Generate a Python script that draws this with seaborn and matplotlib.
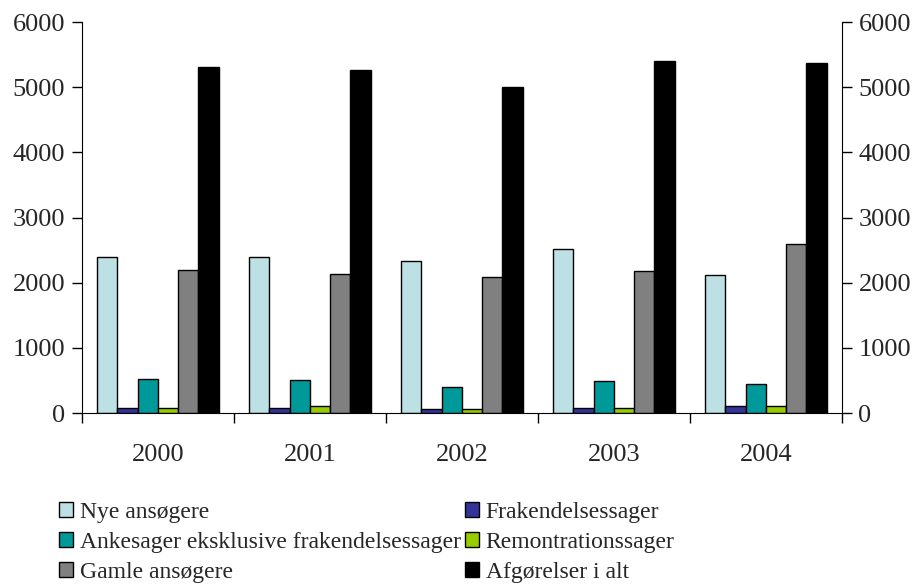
"""Grouped bar chart: afgørelser pr. år, fordelt på sagstyper."""
import matplotlib
matplotlib.use("Agg")
import matplotlib.pyplot as plt
import numpy as np
import pandas as pd
import seaborn as sns

years = ["2000", "2001", "2002", "2003", "2004"]
series = [
    "Nye ansøgere",
    "Frakendelsessager",
    "Ankesager eksklusive frakendelsessager",
    "Remontrationssager",
    "Gamle ansøgere",
    "Afgørelser i alt",
]
nye = [2400, 2400, 2340, 2520, 2120]
frakendelse = [80, 80, 60, 80, 100]
anke = [520, 510, 400, 490, 440]
remontration = [80, 100, 60, 80, 100]
gamle = [2190, 2140, 2090, 2180, 2590]
afgoerelser = [5310, 5270, 5000, 5400, 5370]
colors = ["#BDE0E4", "#333399", "#009999", "#99CC00", "#808080", "#000000"]
yticks = [0, 1000, 2000, 3000, 4000, 5000, 6000]

values = [nye, frakendelse, anke, remontration, gamle, afgoerelser]
df = pd.DataFrame(
    [(y, s, v) for s, vals in zip(series, values) for y, v in zip(years, vals)],
    columns=["year", "series", "value"],
)

sns.set_style("ticks")
plt.rcParams["font.family"] = ["Liberation Serif", "DejaVu Serif"]

fig = plt.figure(figsize=(9.18, 5.85), dpi=100)
ax = fig.add_axes([0.0893, 0.294, 0.8277, 0.668])

sns.barplot(
    data=df, x="year", y="value", hue="series", hue_order=series,
    order=years, palette=colors, width=0.8, edgecolor="black",
    linewidth=1.0, saturation=1, ax=ax, legend=True,
)

ax.set_xlim(-0.5, len(years) - 0.5)
ax.set_ylim(0, 6000)
ax.set_yticks(yticks)
ax.set_xlabel("")
ax.set_ylabel("")
ax.tick_params(axis="y", labelsize=19, length=7, width=1, color="black", pad=5)
ax.tick_params(axis="x", which="major", length=0, labelsize=19, pad=22)
ax.set_xticks(np.arange(len(years) + 1) - 0.5, minor=True)
ax.tick_params(axis="x", which="minor", length=7, width=1, color="black")
for side in ["left", "bottom"]:
    ax.spines[side].set_color("black")
ax.spines["top"].set_visible(False)
ax.spines["right"].set_visible(False)

# right-hand axis with the same scale
ax2 = ax.twinx()
ax2.set_ylim(0, 6000)
ax2.set_yticks(yticks)
ax2.tick_params(axis="y", labelsize=19, length=7, width=1, color="black", pad=5)
ax2.spines["right"].set_color("black")
for side in ["top", "left", "bottom"]:
    ax2.spines[side].set_visible(False)

# legend: row-major order in two columns
handles, labels = ax.get_legend_handles_labels()
ax.get_legend().remove()
order = [0, 2, 4, 1, 3, 5]
leg = fig.legend(
    [handles[i] for i in order], [labels[i] for i in order],
    ncol=2, loc="upper left", bbox_to_anchor=(0.064, 0.142),
    frameon=False, fontsize=17, handlelength=0.6, handleheight=0.6,
    handletextpad=0.3, columnspacing=0.15, labelspacing=0.38,
    borderaxespad=0, borderpad=0,
)

fig.savefig("out.png", dpi=100)
plt.close(fig)
